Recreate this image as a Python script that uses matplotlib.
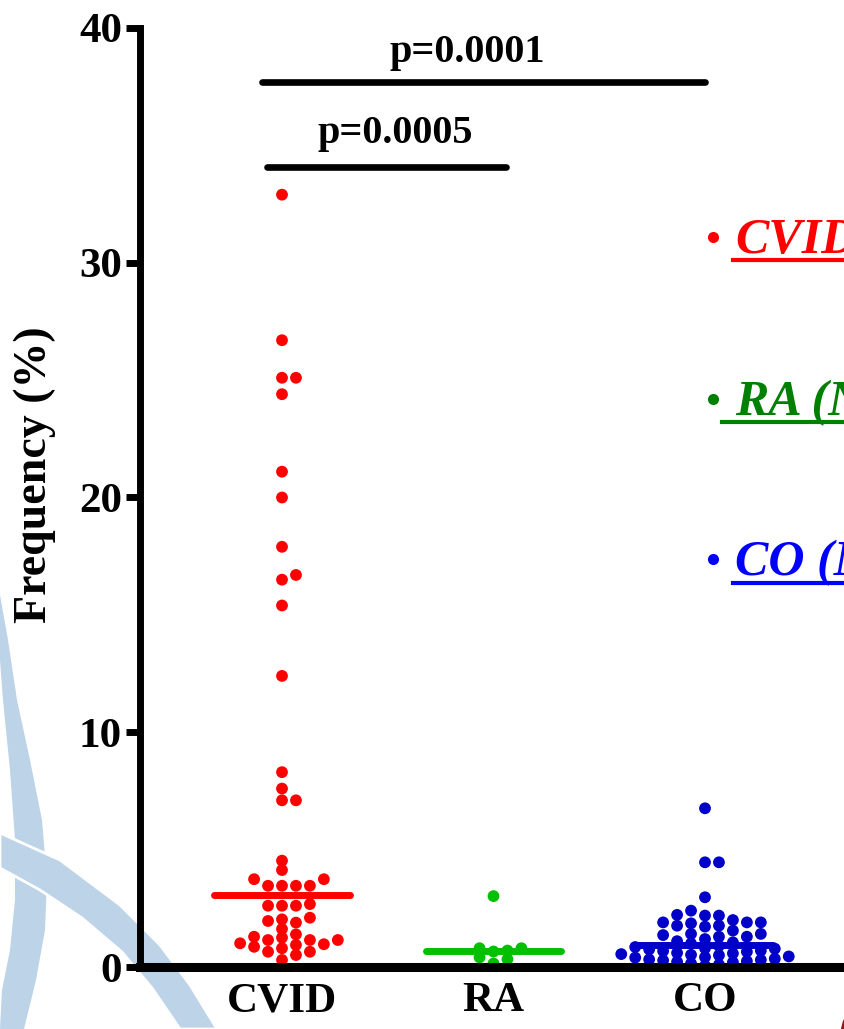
import numpy as np
import matplotlib
matplotlib.use('Agg')
import matplotlib.pyplot as plt
from matplotlib.patches import Polygon, Arc
from matplotlib.lines import Line2D

# ---------------- data ----------------
categories = ['CVID', 'RA', 'CO']

cvid = [32.9, 26.7, 25.1, 25.1, 24.4, 21.1, 20.0, 17.9, 16.5, 16.7, 15.4, 12.4,
        8.3, 7.6, 7.1, 7.1,
        4.53, 4.13, 3.74, 3.74, 3.46, 3.46, 3.46, 3.46,
        2.68, 2.61, 2.61, 2.61, 2.03, 1.89, 1.96, 2.10, 1.62,
        1.29, 1.15, 1.15, 1.01, 1.15, 1.25, 1.39,
        0.94, 0.80, 0.65, 0.30, 0.51, 0.65, 0.86, 0.97]

ra = [3.02, 0.80, 0.80, 0.70, 0.66, 0.41, 0.33, 0.15]

co = [6.76, 4.46, 4.46, 2.97, 2.40, 2.22, 2.19, 2.19, 2.00, 1.90, 1.90, 1.90,
      1.86, 1.76, 1.76, 1.72, 1.55, 1.41, 1.41, 1.36, 1.29, 1.29, 1.19, 1.10,
      1.05, 1.00,
      0.90, 0.85, 0.80, 0.78, 0.75, 0.70, 0.68, 0.65, 0.60, 0.58, 0.55, 0.52,
      0.50, 0.45, 0.42, 0.40, 0.35, 0.32, 0.30, 0.28, 0.25, 0.22, 0.20, 0.15,
      0.10, 0.05]

group_values = [cvid, ra, co]
dot_colors = ['#ff0000', '#00c000', '#0000c8']
legend_labels = ['CVID', 'RA (N', 'CO (N']
legend_colors = ['#ff0000', '#008000', '#0000ff']

yticks = [0, 10, 20, 30, 40]
p_labels = ['p=0.0001', 'p=0.0005']
p_heights = [37.7, 34.08]
p_spans = [(0.905, 3.0), (0.93, 2.06)]
p_text_x = [1.875, 1.534]
p_text_y = [38.55, 35.1]

# ---------------- figure ----------------
W, H = 844, 1029
fig = plt.figure(figsize=(W / 100, H / 100), dpi=100)
fig.patch.set_facecolor('white')
serif = ['Liberation Serif', 'DejaVu Serif']

# background watermark axes in pixel coordinates
bg = fig.add_axes([0, 0, 1, 1], zorder=-5)
bg.set_xlim(0, W)
bg.set_ylim(H, 0)
bg.axis('off')
wm = '#bdd3e7'
right_edge = [(0, 595), (8, 640), (17, 700), (30, 760), (42, 820), (47, 880),
              (45, 930), (36, 980), (24, 1029)]
left_edge = [(0, 1029), (2, 990), (10, 950), (15, 900), (15, 840), (10, 770),
             (3, 700), (0, 660)]
bg.add_patch(Polygon(right_edge + left_edge, closed=True, facecolor=wm,
                     edgecolor='none'))
upper = [(0, 833), (60, 860), (120, 905), (160, 945), (190, 985), (217, 1029)]
lower = [(180, 1029), (152, 988), (122, 952), (82, 918), (40, 890), (0, 868)]
bg.add_patch(Polygon(upper + lower, closed=True, facecolor=wm,
                     edgecolor='white', linewidth=2))
bg.add_patch(Arc((866, 1032), 46, 50, theta1=120, theta2=240,
                 color='#8b1a1a', lw=3))

# main axes
px_per_unit = 211.5
x_left = 1 - 142 / px_per_unit
x_right = x_left + 734 / px_per_unit
ax = fig.add_axes([140 / W, 62 / H, 734 / W, 939 / H])
ax.set_facecolor('none')
ax.set_xlim(x_left, x_right)
ax.set_ylim(0, 40)

for s in ['top', 'right']:
    ax.spines[s].set_visible(False)
ax.spines['left'].set_linewidth(5)
ax.spines['bottom'].set_linewidth(6.5)
ax.spines['left'].set_zorder(5)
ax.spines['bottom'].set_zorder(5)

ax.set_yticks(yticks)
ax.set_yticklabels([str(t) for t in yticks], fontfamily=serif,
                   fontweight='bold', fontsize=31)
ax.tick_params(axis='y', length=10, width=5, pad=3)
ax.set_xticks([1, 2, 3])
ax.set_xticklabels(categories, fontfamily=serif, fontweight='bold', fontsize=31)
ax.tick_params(axis='x', length=0, pad=11)

ax.set_ylabel('Frequency (%)', fontfamily=serif, fontweight='bold',
              fontsize=33, va='center')
ax.yaxis.set_label_coords((35 - 140) / 734, (967 - 475) / 939)


def swarm_x(values, center, col_width=0.066, min_px=8.5):
    vals = np.asarray(values, float)
    pts = np.column_stack([np.full(len(vals), float(center)), vals])
    ypx = ax.transData.transform(pts)[:, 1]
    order = np.argsort(vals, kind='stable')
    seq = [0]
    for j in range(1, 30):
        seq += [j, -j]
    placed = {}
    offs = np.zeros(len(vals))
    for i in order:
        for c in seq:
            if all(abs(ypx[i] - y) >= min_px for y in placed.get(c, [])):
                placed.setdefault(c, []).append(ypx[i])
                offs[i] = c * col_width
                break
    return center + offs


for k, (vals, col) in enumerate(zip(group_values, dot_colors)):
    center = k + 1
    xs = swarm_x(vals, center)
    ax.scatter(xs, vals, s=72, color=col, edgecolors='none', zorder=2,
               clip_on=False)
    med = float(np.median(vals))
    ax.plot([center - 0.32, center + 0.32], [med, med], color=col, lw=5,
            solid_capstyle='round', zorder=3)

# significance bars
for lab, hgt, (x0, x1), tx, ty in zip(p_labels, p_heights, p_spans,
                                      p_text_x, p_text_y):
    ax.plot([x0, x1], [hgt, hgt], color='black', lw=4.8,
            solid_capstyle='round', clip_on=False, zorder=4)
    ax.text(tx, ty, lab, ha='center', va='baseline', fontfamily=serif,
            fontweight='bold', fontsize=29, color='black')

# group labels on the right (in pixel coordinates of the figure)
leg_baselines = [253, 415, 575]
underline_y = [260, 422, 583]
underline_x0 = [733, 722, 733]
for lab, col, yb, uy, ux in zip(legend_labels, legend_colors, leg_baselines,
                                underline_y, underline_x0):
    bg.plot([713], [yb - 16], marker='o', ms=8, color=col, mec='none')
    fig.text(735 / W, 1 - yb / H, lab, color=col,
             fontfamily=serif, fontweight='bold', fontstyle='italic',
             fontsize=36, ha='left', va='baseline')
    bg.add_line(Line2D([ux, W + 20], [uy, uy], color=col, lw=3))

fig.savefig('out.png', dpi=100)
